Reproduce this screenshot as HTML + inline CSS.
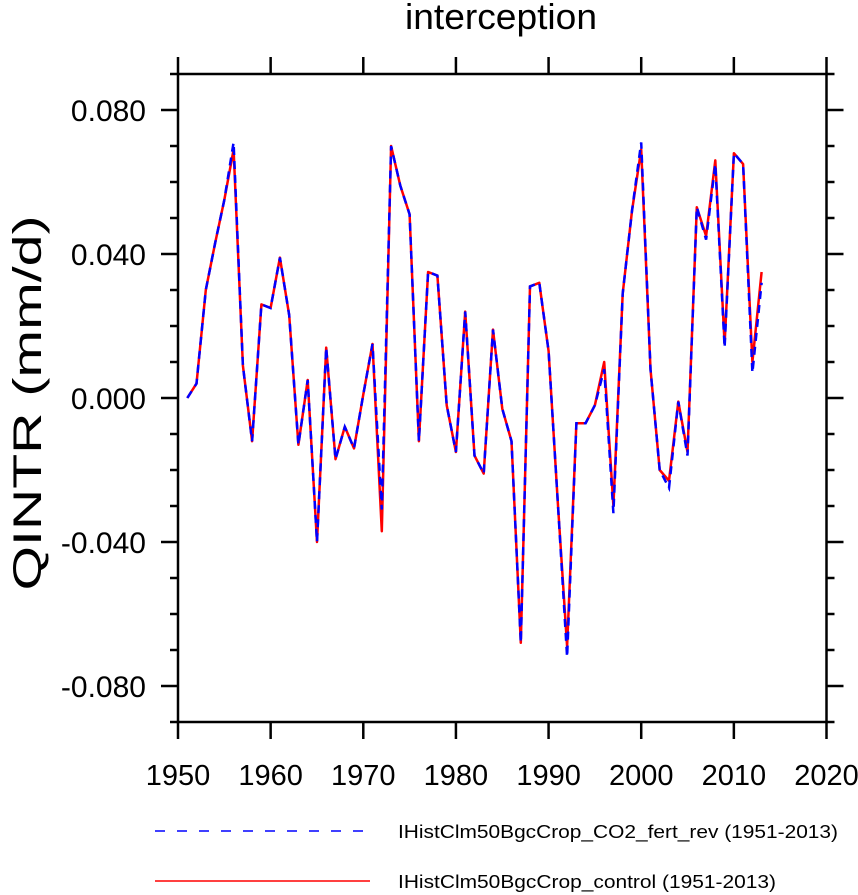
<!DOCTYPE html>
<html><head><meta charset="utf-8"><style>
html,body{margin:0;padding:0;background:#fff;}
svg{display:block;font-family:"Liberation Sans",Arial,sans-serif;}
</style></head><body>
<svg id="chart" width="858" height="895" viewBox="0 0 858 895" xmlns="http://www.w3.org/2000/svg">
<text x="501" y="29" font-size="36" text-anchor="middle" textLength="192" lengthAdjust="spacingAndGlyphs">interception</text>
<text transform="translate(41,403) rotate(-90)" font-size="40" text-anchor="middle" textLength="375" lengthAdjust="spacingAndGlyphs">QINTR  (mm/d)</text>
<g id="axes"></g>
<g id="series"></g>
<g>
<line x1="155" y1="831" x2="370" y2="831" stroke="#0000ff" stroke-width="1.5" stroke-dasharray="10,12"/>
<text x="398" y="838" font-size="18" textLength="440" lengthAdjust="spacingAndGlyphs">IHistClm50BgcCrop_CO2_fert_rev (1951-2013)</text>
<line x1="155" y1="881" x2="370" y2="881" stroke="#ff0000" stroke-width="1.5"/>
<text x="398" y="888" font-size="18" textLength="378" lengthAdjust="spacingAndGlyphs">IHistClm50BgcCrop_control (1951-2013)</text>
</g>
</svg>
<script>
const years = [];
for (let y = 1951; y <= 2013; y++) years.push(y);
const fertRev = [0.000,0.004,0.030,0.043,0.055,0.071,0.009,-0.012,0.026,0.025,
0.039,0.023,-0.013,0.005,-0.040,0.014,-0.017,-0.008,-0.014,0.001,
0.015,-0.031,0.070,0.059,0.051,-0.012,0.035,0.034,-0.002,-0.015,
0.024,-0.016,-0.021,0.019,-0.003,-0.012,-0.068,0.031,0.032,0.013,
-0.029,-0.072,-0.007,-0.007,-0.002,0.008,-0.032,0.029,0.052,0.071,
0.008,-0.020,-0.025,-0.001,-0.016,0.053,0.044,0.065,0.014,0.068,
0.065,0.007,0.032];
const control = [0.000,0.004,0.030,0.043,0.055,0.069,0.009,-0.012,0.026,0.025,
0.039,0.023,-0.013,0.005,-0.040,0.014,-0.017,-0.008,-0.014,0.001,
0.015,-0.037,0.070,0.059,0.051,-0.012,0.035,0.034,-0.002,-0.015,
0.024,-0.016,-0.021,0.019,-0.003,-0.012,-0.068,0.031,0.032,0.013,
-0.029,-0.069,-0.007,-0.007,-0.002,0.010,-0.030,0.029,0.052,0.069,
0.008,-0.020,-0.023,-0.001,-0.015,0.053,0.045,0.066,0.015,0.068,
0.065,0.010,0.035];
const xTicks = [1950,1960,1970,1980,1990,2000,2010,2020];
const yMajor = [0.08,0.04,0,-0.04,-0.08];
const yLabels = ["0.080","0.040","0.000","-0.040","-0.080"];

const L=178,R=826.5,T=74,B=722;
const xMin=1950,xMax=2020,yMin=-0.09,yMax=0.09;
const sx=v=>L+(v-xMin)/(xMax-xMin)*(R-L);
const sy=v=>B-(v-yMin)/(yMax-yMin)*(B-T);
const NS="http://www.w3.org/2000/svg";
function mk(tag,attrs,parent){const e=document.createElementNS(NS,tag);for(const k in attrs)e.setAttribute(k,attrs[k]);parent.appendChild(e);return e;}
const axes=document.getElementById('axes');
const frame=mk('rect',{x:L,y:T,width:R-L,height:B-T,fill:'none',stroke:'#000','stroke-width':2.5},axes);


xTicks.forEach(t=>{
  const x=sx(t);
  const a=mk('line',{x1:x,y1:B,x2:x,y2:B+17,stroke:'#000','stroke-width':2.5},axes);
  
  
  const b=mk('line',{x1:x,y1:T,x2:x,y2:T-17,stroke:'#000','stroke-width':2.5},axes);
  
  
  const tx=mk('text',{x:x,y:785,'font-size':29,'text-anchor':'middle'},axes);
  tx.textContent=t;
  
  
});
for(let i=-9;i<=9;i++){
  const v=i/100, y=sy(v);
  const major=(i%4===0);
  const len=major?17:8;
  const a=mk('line',{x1:L,y1:y,x2:L-len,y2:y,stroke:'#000','stroke-width':2.5},axes);
  
  
  const b=mk('line',{x1:R,y1:y,x2:R+len,y2:y,stroke:'#000','stroke-width':2.5},axes);
  
  
}
yMajor.forEach((v,i)=>{
  const tx=mk('text',{x:146,y:sy(v)+11,'font-size':30,'text-anchor':'end'},axes);
  tx.textContent=yLabels[i];
  
  
});
const series=document.getElementById('series');
function pts(arr){return arr.map((v,i)=>sx(years[i]).toFixed(1)+','+sy(v).toFixed(1)).join(' ');}
const red=mk('polyline',{points:pts(control),fill:'none',stroke:'#ff0000','stroke-width':2.5,'stroke-linejoin':'round'},series);


const blue=mk('polyline',{points:pts(fertRev),fill:'none',stroke:'#0000ff','stroke-width':2.5,'stroke-dasharray':'8,6'},series);


</script>
</body></html>
